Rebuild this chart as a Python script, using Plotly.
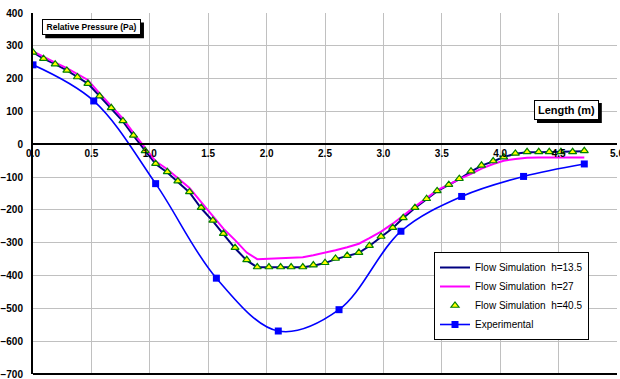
import plotly.graph_objects as go

# ---- data ----
x_sim = [0.00, 0.09, 0.19, 0.29, 0.38, 0.47, 0.57, 0.67, 0.77, 0.86,
         0.96, 1.05, 1.15, 1.24, 1.34, 1.44, 1.54, 1.63, 1.73, 1.83,
         1.92, 2.02, 2.12, 2.21, 2.31, 2.40, 2.50, 2.59, 2.69, 2.79,
         2.88, 2.98, 3.08, 3.17, 3.27, 3.37, 3.46, 3.56, 3.65, 3.75,
         3.84, 3.94, 4.03, 4.13, 4.23, 4.33, 4.42, 4.52, 4.62, 4.72]

h135 = [280, 261, 244, 225, 205, 185, 147, 110, 70, 26,
        -21, -60, -86, -114, -147, -195, -234, -274, -317, -354,
        -375, -375, -375, -375, -375, -370, -362, -350, -341, -331,
        -310, -282, -255, -225, -194, -167, -143, -124, -106, -83,
        -65, -52, -39, -29, -24, -24, -23, -23, -23, -21]

h27 = [283, 266, 249, 232, 214, 196, 155, 118, 78, 35,
       -12, -52, -76, -102, -133, -176, -217, -257, -292, -330,
       -350, -349, -347, -346, -344, -338, -331, -323, -314, -303,
       -286, -266, -242, -216, -190, -164, -140, -123, -106, -90,
       -74, -60, -50, -45, -41, -40, -40, -40, -40, -40]

h405 = [280, 261, 244, 225, 205, 185, 147, 111, 71, 27,
        -20, -59, -84, -112, -145, -193, -232, -272, -315, -352,
        -374, -374, -374, -374, -374, -368, -361, -348, -339, -330,
        -309, -281, -254, -224, -193, -166, -142, -123, -105, -82,
        -64, -51, -39, -28, -23, -23, -23, -23, -23, -20]

x_exp = [0.00, 0.52, 1.05, 1.57, 2.10, 2.62, 3.15, 3.67, 4.20, 4.72]
y_exp = [242, 132, -120, -408, -569, -504, -265, -159, -98, -60]

x_ticks = [0.0, 0.5, 1.0, 1.5, 2.0, 2.5, 3.0, 3.5, 4.0, 4.5, 5.0]
y_ticks = [400, 300, 200, 100, 0, -100, -200, -300, -400, -500, -600, -700]

NB = "\u00a0"
FONT = "Liberation Sans, Arial, sans-serif"

fig = go.Figure()
fig.add_trace(go.Scatter(x=x_sim, y=h135, mode="lines",
                         name=f"Flow Simulation{NB}{NB}h=13.5",
                         line=dict(color="#000080", width=2)))
fig.add_trace(go.Scatter(x=x_sim, y=h27, mode="lines",
                         name=f"Flow Simulation{NB}{NB}h=27",
                         line=dict(color="#ff00ff", width=2)))
fig.add_trace(go.Scatter(x=x_sim, y=h405, mode="markers",
                         name=f"Flow Simulation{NB}{NB}h=40.5",
                         marker=dict(symbol="triangle-up", size=7, color="#ffff00",
                                     line=dict(color="#008000", width=1.2))))
fig.add_trace(go.Scatter(x=x_exp, y=y_exp, mode="lines+markers",
                         name="Experimental",
                         line=dict(color="#0000ff", width=1.6, shape="spline", smoothing=1.0),
                         marker=dict(symbol="square", size=7, color="#0000ff")))

fig.update_layout(
    width=620, height=379,
    margin=dict(l=33, r=3, t=13, b=5, autoexpand=False),
    paper_bgcolor="white", plot_bgcolor="white",
    font=dict(family=FONT, size=10, color="black"),
    legend=dict(x=(434 - 33) / 584, y=1 - (252 - 13) / 361, xanchor="left", yanchor="top",
                bgcolor="white", bordercolor="black", borderwidth=1,
                font=dict(family=FONT, size=10, color="black"),
                tracegroupgap=0, itemwidth=30),
    showlegend=True,
)

fig.update_xaxes(range=[0, 5], tickvals=x_ticks, ticktext=[f"{v:.1f}" for v in x_ticks],
                 anchor="free", position=700 / 1100, automargin=False,
                 showline=True, linecolor="black", linewidth=2,
                 showgrid=True, gridcolor="#c0c0c0", gridwidth=1,
                 zeroline=False, ticks="", ticklabeloverflow="allow",
                 tickfont=dict(family=FONT, size=10, color="black", weight="bold"))
fig.update_yaxes(range=[-700, 400], tickvals=y_ticks, automargin=False,
                 showline=True, linecolor="black", linewidth=2,
                 showgrid=True, gridcolor="#c0c0c0", gridwidth=1,
                 zeroline=False, ticks="", ticklabelstandoff=6, ticklabeloverflow="allow",
                 tickfont=dict(family=FONT, size=10, color="black", weight="bold"))

# bottom frame line
fig.add_shape(type="line", xref="paper", yref="paper", x0=0, x1=1, y0=0, y1=0,
              line=dict(color="black", width=2))

def boxed(text, cx, cy, w, h, size, shadow):
    fig.add_shape(type="rect", xref="paper", yref="paper",
                  x0=shadow[0], x1=shadow[1], y0=shadow[2], y1=shadow[3],
                  fillcolor="black", line=dict(width=0), layer="above")
    fig.add_annotation(
        text=text, xref="paper", yref="paper", x=cx, y=cy,
        xanchor="center", yanchor="middle", showarrow=False,
        width=w, height=h, align="center", valign="middle",
        font=dict(family=FONT, size=size, color="black", weight="bold"),
        bgcolor="white", bordercolor="black", borderwidth=1, borderpad=1)

boxed("Relative Pressure (Pa)", 0.1005, 0.960, 95, 12, 8.5, (0.021, 0.190, 0.930, 0.974))
boxed("Length (m)", 0.9135, 0.7313, 61, 16, 11, (0.863, 0.974, 0.695, 0.751))

fig.write_html("out.html", config={"displayModeBar": False},
               post_script="document.body.style.margin='0';document.body.style.overflow='hidden';")
